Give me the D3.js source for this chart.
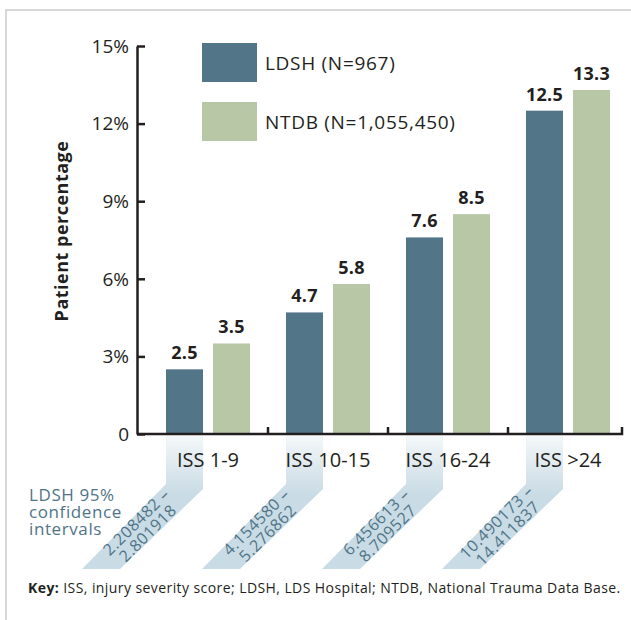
<!DOCTYPE html>
<html>
<head>
<meta charset="utf-8">
<script src="https://cdn.jsdelivr.net/npm/d3@7"></script>
<style>
  body { margin: 0; background: #fff; }
  text { font-family: "Open Sans", "Noto Sans", sans-serif; }
</style>
</head>
<body>
<div id="chart"></div>
<script>
// data
var categories = ["ISS 1-9", "ISS 10-15", "ISS 16-24", "ISS >24"];
var ldsh = [2.5, 4.7, 7.6, 12.5];
var ntdb = [3.5, 5.8, 8.5, 13.3];
var ciLow = ["2.208482", "4.154580", "6.456613", "10.490173"];
var ciHigh = ["2.801918", "5.276862", "8.709527", "14.411837"];
var yTicks = [0, 3, 6, 9, 12, 15];
var seriesNames = ["LDSH (N=967)", "NTDB (N=1,055,450)"];

var colLdsh = "#527587", colNtdb = "#b8c8a7", ink = "#231f20";

var width = 631, height = 620;
var svg = d3.select("#chart").append("svg")
    .attr("width", width)
    .attr("height", height);

// gradient for the confidence interval ribbons
var grad = svg.append("defs").append("linearGradient")
    .attr("id", "ribbon")
    .attr("gradientUnits", "userSpaceOnUse")
    .attr("x1", 0).attr("y1", 437).attr("x2", 0).attr("y2", 495);
grad.append("stop").attr("offset", "0%").attr("stop-color", "#f3f7f9");
grad.append("stop").attr("offset", "100%").attr("stop-color", "#c9dbe4");

// light frame
svg.append("path")
    .attr("d", "M6,620 L6,10 L631,10")
    .attr("fill", "none")
    .attr("stroke", "#cccccc")
    .attr("stroke-width", 1.5);

var x = d3.scaleBand().domain(categories).range([148, 628]);
var y = d3.scaleLinear().domain([0, 15]).range([434, 46]);
var barW = 37, gap = 10;

function barX(i, s) {
    var c = x(categories[i]) + x.bandwidth() / 2;
    return s === 0 ? c - gap / 2 - barW : c + gap / 2;
}

// ribbons under the LDSH bars
categories.forEach(function(cat, i) {
    var x0 = barX(i, 0), x1 = x0 + barW;
    var pts = [[x0, 436], [x1, 436], [x1, 489], [x1 - 83, 569], [x0 - 84, 569], [x0, 484]];
    svg.append("polygon")
        .attr("points", pts.map(function(p) { return p.join(","); }).join(" "))
        .attr("fill", "url(#ribbon)");

    var cx = (x0 + x1) / 2 - 42, cy = 528;
    var g = svg.append("g")
        .attr("transform", "translate(" + cx + "," + cy + ") rotate(-45)");
    g.append("text")
        .attr("text-anchor", "middle")
        .attr("y", -3)
        .attr("font-size", "16px")
        .attr("letter-spacing", "0.6px")
        .attr("fill", "#4f7488")
        .text(ciLow[i] + " \u2013");
    g.append("text")
        .attr("text-anchor", "middle")
        .attr("y", 13)
        .attr("font-size", "16px")
        .attr("letter-spacing", "0.6px")
        .attr("fill", "#4f7488")
        .text(ciHigh[i]);
});

// bars
var groups = svg.selectAll("g.grp")
    .data(categories)
    .enter()
    .append("g")
    .attr("class", "grp");

groups.append("rect")
    .attr("x", function(d, i) { return barX(i, 0); })
    .attr("y", function(d, i) { return y(ldsh[i]); })
    .attr("width", barW)
    .attr("height", function(d, i) { return y(0) - y(ldsh[i]); })
    .attr("fill", colLdsh);

groups.append("rect")
    .attr("x", function(d, i) { return barX(i, 1); })
    .attr("y", function(d, i) { return y(ntdb[i]); })
    .attr("width", barW)
    .attr("height", function(d, i) { return y(0) - y(ntdb[i]); })
    .attr("fill", colNtdb);

// value labels
groups.append("text")
    .attr("x", function(d, i) { return barX(i, 0) + barW / 2; })
    .attr("y", function(d, i) { return y(ldsh[i]) - 10; })
    .attr("text-anchor", "middle")
    .attr("font-size", "18px")
    .attr("font-weight", "bold")
    .attr("letter-spacing", "0.3px")
    .attr("fill", ink)
    .text(function(d, i) { return ldsh[i].toFixed(1); });

groups.append("text")
    .attr("x", function(d, i) { return barX(i, 1) + barW / 2; })
    .attr("y", function(d, i) { return y(ntdb[i]) - 10; })
    .attr("text-anchor", "middle")
    .attr("font-size", "18px")
    .attr("font-weight", "bold")
    .attr("letter-spacing", "0.3px")
    .attr("fill", ink)
    .text(function(d, i) { return ntdb[i].toFixed(1); });

// y axis
var yAxis = d3.axisRight(y)
    .tickValues(yTicks)
    .tickSize(8)
    .tickSizeOuter(0)
    .tickFormat("");
var ya = svg.append("g")
    .attr("transform", "translate(137,0)")
    .call(yAxis);
ya.select(".domain").attr("stroke", ink).attr("stroke-width", 2.5);
ya.selectAll(".tick line").attr("stroke", ink).attr("stroke-width", 2.5);

svg.selectAll("text.ytick")
    .data(yTicks)
    .enter()
    .append("text")
    .attr("class", "ytick")
    .attr("x", 129)
    .attr("y", function(d) { return y(d); })
    .attr("dy", "0.36em")
    .attr("text-anchor", "end")
    .attr("font-size", "19px")
    .attr("fill", ink)
    .text(function(d) { return d === 0 ? "0" : d + "%"; });

svg.append("text")
    .attr("transform", "translate(68,231) rotate(-90)")
    .attr("text-anchor", "middle")
    .attr("font-size", "18px")
    .attr("font-weight", "bold")
    .attr("letter-spacing", "0.5px")
    .attr("fill", ink)
    .text("Patient percentage");

// x axis: baseline with inward ticks between groups
svg.append("path")
    .attr("d", "M137," + y(0) + " L622," + y(0) + " L622," + (y(0) - 7))
    .attr("fill", "none")
    .attr("stroke", ink)
    .attr("stroke-width", 2.5);

svg.selectAll("line.xtick")
    .data(categories.slice(1))
    .enter()
    .append("line")
    .attr("class", "xtick")
    .attr("x1", function(d) { return x(d); })
    .attr("x2", function(d) { return x(d); })
    .attr("y1", y(0))
    .attr("y2", y(0) - 7)
    .attr("stroke", ink)
    .attr("stroke-width", 2.5);

svg.selectAll("text.xlab")
    .data(categories)
    .enter()
    .append("text")
    .attr("class", "xlab")
    .attr("x", function(d) { return x(d) + x.bandwidth() / 2; })
    .attr("y", 467)
    .attr("text-anchor", "middle")
    .attr("font-size", "20px")
    .attr("fill", ink)
    .text(function(d) { return d; });

// legend
var legend = svg.selectAll("g.legend")
    .data(seriesNames)
    .enter()
    .append("g")
    .attr("class", "legend")
    .attr("transform", function(d, i) { return "translate(202," + (43 + i * 59) + ")"; });

legend.append("rect")
    .attr("width", 55)
    .attr("height", 39)
    .attr("fill", function(d, i) { return i === 0 ? colLdsh : colNtdb; });

legend.append("text")
    .attr("x", 63)
    .attr("y", 27)
    .attr("font-size", "19px")
    .attr("letter-spacing", "0.7px")
    .attr("fill", ink)
    .text(function(d) { return d; });

// CI caption
var cap = svg.append("text")
    .attr("x", 29)
    .attr("font-size", "17px")
    .attr("letter-spacing", "0.6px")
    .attr("fill", "#4f7488");
["LDSH 95%", "confidence", "intervals"].forEach(function(t, i) {
    cap.append("tspan").attr("x", 29).attr("y", 501 + i * 17).text(t);
});

// key
var key = svg.append("text")
    .attr("x", 28)
    .attr("y", 593)
    .attr("font-size", "14px")
    .attr("letter-spacing", "0.42px")
    .attr("fill", ink);
key.append("tspan").attr("font-weight", "bold").text("Key:");
key.append("tspan").text(" ISS, injury severity score; LDSH, LDS Hospital; NTDB, National Trauma Data Base.");
</script>
</body>
</html>
